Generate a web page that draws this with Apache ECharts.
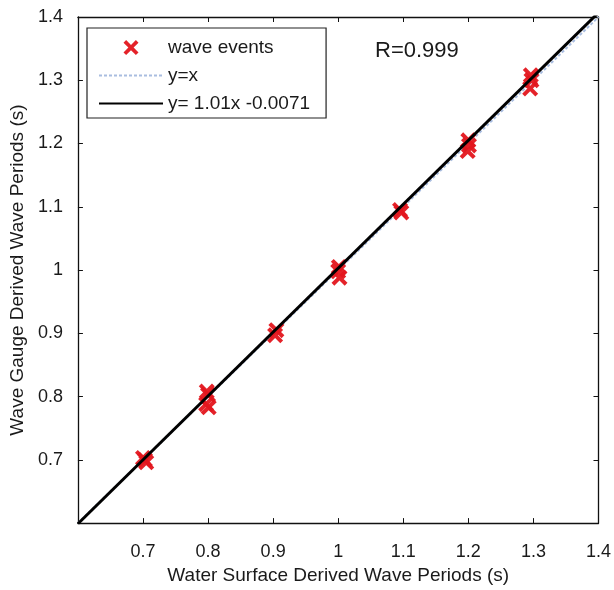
<!DOCTYPE html>
<html>
<head>
<meta charset="utf-8">
<script src="https://cdn.jsdelivr.net/npm/echarts@6/dist/echarts.min.js"></script>
<style>
html,body{margin:0;padding:0;background:#fff;}
#chart{width:614px;height:590px;}
</style>
</head>
<body>
<div id="chart"></div>
<script>
// Data
var eventX = [0.703, 0.705, 0.700, 0.798, 0.800, 0.797, 0.801, 0.905, 0.903, 1.001, 1.000, 1.002, 1.095, 1.097, 1.200, 1.201, 1.199, 1.296, 1.297, 1.295];
var eventY = [0.700, 0.696, 0.703, 0.808, 0.803, 0.788, 0.783, 0.905, 0.897, 1.005, 0.998, 0.988, 1.095, 1.091, 1.205, 1.197, 1.188, 1.308, 1.300, 1.287];
var identityLine = [[0.6, 0.6], [1.4, 1.4]];
var fitLine = [[0.6, 0.5989], [1.4, 1.4069]];
var seriesNames = ['wave events', 'y=x', 'y= 1.01x -0.0071'];
var rText = 'R=0.999';
var xTitle = 'Water Surface Derived Wave Periods (s)';
var yTitle = 'Wave Gauge Derived Wave Periods (s)';

var points = eventX.map(function (x, i) { return [x, eventY[i]]; });
var FONT = 'Helvetica, "Liberation Sans", Arial, sans-serif';
var TXT = '#1a1a1a';
var crossPath = 'path://M0,3.5 L3.5,0 L10,6.5 L16.5,0 L20,3.5 L13.5,10 L20,16.5 L16.5,20 L10,13.5 L3.5,20 L0,16.5 L6.5,10 Z';

function fmt(v) {
  var r = Math.round(v * 10) / 10;
  if (Math.abs(r - 0.6) < 1e-9) return '';
  return String(r);
}

var axisCommon = {
  type: 'value', min: 0.6, max: 1.4, interval: 0.1,
  splitLine: { show: false },
  axisLine: { show: true, lineStyle: { color: '#111', width: 1.3 } },
  axisTick: { show: true, inside: true, length: 5, lineStyle: { color: '#111', width: 1 } }
};

var chart = echarts.init(document.getElementById('chart'), null, { renderer: 'canvas' });
chart.setOption({
  animation: false,
  backgroundColor: '#ffffff',
  grid: { left: 77, right: 15, top: 17, bottom: 57, containLabel: false },
  title: {
    text: rText, left: 370, top: 35,
    textStyle: { fontFamily: FONT, fontSize: 22, fontWeight: 'normal', color: TXT }
  },
  legend: {
    orient: 'vertical', left: 87, top: 28,
    padding: [10, 16, 5, 11],
    itemWidth: 64, itemHeight: 15, itemGap: 9,
    backgroundColor: '#fff',
    borderColor: '#222', borderWidth: 1.2,
    textStyle: { fontFamily: FONT, fontSize: 19, color: TXT },
    data: [
      { name: seriesNames[0] },
      { name: seriesNames[1], itemStyle: { opacity: 0 } },
      { name: seriesNames[2], itemStyle: { opacity: 0 } }
    ]
  },
  xAxis: [
    Object.assign({}, axisCommon, {
      position: 'bottom',
      name: xTitle, nameLocation: 'middle', nameGap: 37,
      nameTextStyle: { fontFamily: FONT, fontSize: 19, color: TXT },
      axisLabel: { margin: 20, fontFamily: FONT, fontSize: 18, color: TXT, formatter: fmt, showMinLabel: true, showMaxLabel: true }
    }),
    Object.assign({}, axisCommon, { position: 'top', axisLabel: { show: false } })
  ],
  yAxis: [
    Object.assign({}, axisCommon, {
      position: 'left',
      name: yTitle, nameLocation: 'middle', nameGap: 44, nameRotate: 90,
      nameTextStyle: { fontFamily: FONT, fontSize: 19, color: TXT },
      axisLabel: { margin: 15, fontFamily: FONT, fontSize: 18, color: TXT, formatter: fmt, showMinLabel: true, showMaxLabel: true }
    }),
    Object.assign({}, axisCommon, { position: 'right', axisLabel: { show: false } })
  ],
  series: [
    {
      name: seriesNames[0], type: 'scatter', xAxisIndex: 0, yAxisIndex: 0,
      data: points, symbol: crossPath, symbolSize: 16, symbolKeepAspect: true,
      itemStyle: { color: '#e3161d', opacity: 0.95 }, z: 3
    },
    {
      name: seriesNames[1], type: 'line', xAxisIndex: 0, yAxisIndex: 0,
      data: identityLine, symbol: 'none', showSymbol: false, clip: true,
      lineStyle: { color: '#a9bde0', width: 2, type: [3, 2] }, z: 2
    },
    {
      name: seriesNames[2], type: 'line', xAxisIndex: 0, yAxisIndex: 0,
      data: fitLine, symbol: 'none', showSymbol: false, clip: true,
      lineStyle: { color: '#000', width: 3 }, z: 4
    }
  ]
});
</script>
</body>
</html>
